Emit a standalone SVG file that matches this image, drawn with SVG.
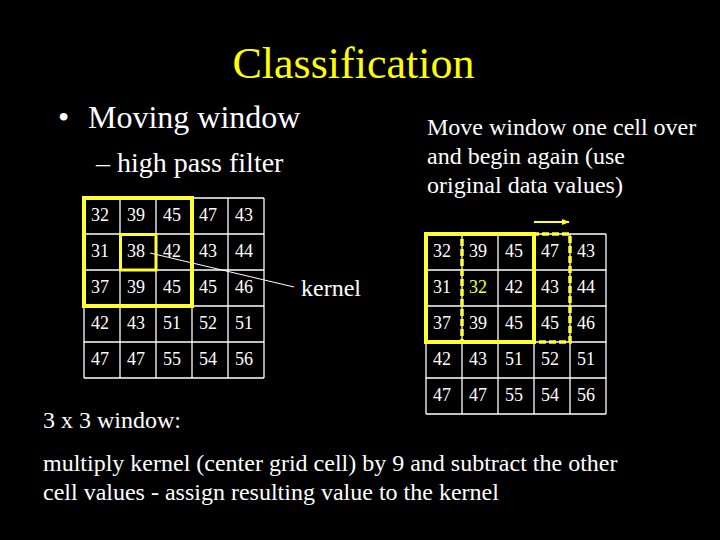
<svg xmlns="http://www.w3.org/2000/svg" width="720" height="540" viewBox="0 0 720 540">
<defs>
<style>
text{font-family:'Liberation Serif','DejaVu Serif',serif;fill:#fff}
.t{fill:#ffff00;font-size:44px}
.b{font-size:32px}
.s{font-size:28px}
.m{font-size:24px}
.n{font-size:18px}
.hl{fill:#ffff33}
.grid{fill:none;stroke:#fff;stroke-width:1.3}
.win{fill:none;stroke:#ffff33;stroke-width:4}
.ker{fill:none;stroke:#ffff33;stroke-width:3}
.dash{fill:none;stroke:#ffff33;stroke-width:3.5;stroke-dasharray:7 3}
</style>
<marker id="ah" viewBox="0 0 10 10" refX="9" refY="5" markerWidth="4" markerHeight="4" orient="auto" markerUnits="strokeWidth">
<path d="M0,1 L10,5 L0,9 z" fill="#ffff33"/>
</marker>
</defs>
<rect width="720" height="540" fill="#000"/>
<g id="title"><text class="t" x="353.5" y="78" text-anchor="middle" font-family="Liberation Serif, serif">Classification</text></g>
<g id="bullets">
<text class="b" x="58" y="128">•</text>
<text class="b" x="88" y="128">Moving window</text>
<text class="s" x="96" y="172">– high pass filter</text>
</g>
<g id="note">
<text class="m" x="427" y="135">Move window one cell over</text>
<text class="m" x="427" y="164">and begin again (use</text>
<text class="m" x="427" y="193">original data values)</text>
</g>
<g id="left-grid">
<path class="grid" d="M84,198H264M84,234H264M84,270H264M84,306H264M84,342H264M84,378H264M84,198V378M120,198V378M156,198V378M192,198V378M228,198V378M264,198V378"/>
<g class="n">
<text x="91" y="221">32</text><text x="127" y="221">39</text><text x="163" y="221">45</text><text x="199" y="221">47</text><text x="235" y="221">43</text>
<text x="91" y="257">31</text><text x="127" y="257">38</text><text x="163" y="257">42</text><text x="199" y="257">43</text><text x="235" y="257">44</text>
<text x="91" y="293">37</text><text x="127" y="293">39</text><text x="163" y="293">45</text><text x="199" y="293">45</text><text x="235" y="293">46</text>
<text x="91" y="329">42</text><text x="127" y="329">43</text><text x="163" y="329">51</text><text x="199" y="329">52</text><text x="235" y="329">51</text>
<text x="91" y="365">47</text><text x="127" y="365">47</text><text x="163" y="365">55</text><text x="199" y="365">54</text><text x="235" y="365">56</text>
</g>
<rect class="win" x="84" y="198" width="108" height="108"/>
<rect class="ker" x="120.5" y="234.5" width="35.5" height="35.5"/>
</g>
<g id="kernel-label"><text class="m" x="301" y="296">kernel</text></g>
<g id="right-grid">
<path class="grid" d="M426,234H606M426,270H606M426,306H606M426,342H606M426,378H606M426,414H606M426,234V414M462,234V414M498,234V414M534,234V414M570,234V414M606,234V414"/>
<g class="n">
<text x="433" y="257">32</text><text x="469" y="257">39</text><text x="505" y="257">45</text><text x="541" y="257">47</text><text x="577" y="257">43</text>
<text x="433" y="293">31</text><text class="hl" x="469" y="293">32</text><text x="505" y="293">42</text><text x="541" y="293">43</text><text x="577" y="293">44</text>
<text x="433" y="329">37</text><text x="469" y="329">39</text><text x="505" y="329">45</text><text x="541" y="329">45</text><text x="577" y="329">46</text>
<text x="433" y="365">42</text><text x="469" y="365">43</text><text x="505" y="365">51</text><text x="541" y="365">52</text><text x="577" y="365">51</text>
<text x="433" y="401">47</text><text x="469" y="401">47</text><text x="505" y="401">55</text><text x="541" y="401">54</text><text x="577" y="401">56</text>
</g>
<rect class="win" x="426" y="234" width="108" height="108"/>
<rect class="dash" x="462" y="234" width="108" height="108"/>
</g>
<g id="connectors">
<line x1="150" y1="253" x2="294" y2="287" stroke="#fff" stroke-width="1"/>
<line x1="534" y1="222" x2="569" y2="222" stroke="#ffff33" stroke-width="2" marker-end="url(#ah)"/>
</g>
<g id="footer">
<text class="m" x="43" y="428">3 x 3 window:</text>
<text class="m" x="43" y="471">multiply kernel (center grid cell) by 9 and subtract the other</text>
<text class="m" x="43" y="500">cell values - assign resulting value to the kernel</text>
</g>
</svg>
